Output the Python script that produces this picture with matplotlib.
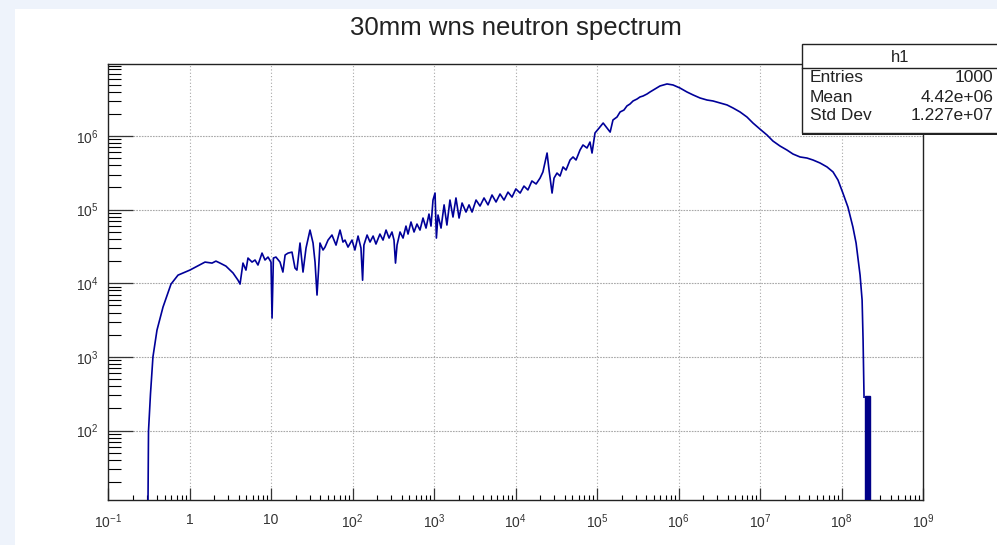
import matplotlib
matplotlib.use("Agg")
import matplotlib.pyplot as plt
from matplotlib.patches import Rectangle
from matplotlib.ticker import LogLocator, NullFormatter

plt.rcParams['font.family'] = ['Liberation Sans', 'DejaVu Sans']
plt.rcParams['mathtext.fontset'] = 'custom'
plt.rcParams['mathtext.rm'] = 'Liberation Sans'
plt.rcParams['mathtext.it'] = 'Liberation Sans'

# ---------------- data ----------------
title = "30mm wns neutron spectrum"

energy_eV = [0.305, 0.314, 0.332, 0.356, 0.399, 0.473, 0.593, 0.723, 1.01, 1.55,
             1.89, 2.11, 2.37, 2.80, 3.42, 3.94, 4.17, 4.53, 4.93, 5.22,
             5.85, 6.37, 6.92, 7.76, 8.44, 9.19, 10.0, 10.3, 10.7, 11.5,
             12.9, 14.0, 14.9, 16.2, 18.1, 19.7, 20.8, 22.7, 24.7, 26.9,
             30.1, 32.8, 34.7, 36.7, 38.3, 39.9, 43.5, 46.0, 50.1, 56.0,
             62.8, 70.3, 76.4, 80.9, 88.1, 98.6, 107, 117, 127, 133,
             138, 151, 164, 179, 194, 217, 237, 258, 281, 305,
             323, 337, 352, 383, 417, 453, 480, 522, 569, 618,
             673, 733, 798, 868, 919, 972, 1030, 1070, 1120, 1220,
             1330, 1440, 1570, 1710, 1860, 2030, 2210, 2470, 2690, 2930,
             3280, 3670, 4110, 4600, 5150, 5770, 6460, 7230, 8090, 9060,
             1.01e4, 1.14e4, 1.27e4, 1.42e4, 1.59e4, 1.79e4, 2.00e4, 2.17e4, 2.44e4, 2.58e4,
             2.81e4, 2.97e4, 3.23e4, 3.52e4, 3.83e4, 4.17e4, 4.67e4, 5.08e4, 5.53e4, 6.19e4,
             6.73e4, 7.54e4, 8.20e4, 8.69e4, 9.45e4, 1.06e5, 1.19e5, 1.33e5, 1.45e5, 1.57e5,
             1.76e5, 1.92e5, 2.14e5, 2.33e5, 2.54e5, 2.77e5, 3.10e5, 3.37e5, 3.67e5, 4.11e5,
             4.47e5, 5.15e5, 5.93e5, 7.23e5, 8.57e5, 1.04e6, 1.27e6, 1.51e6, 1.84e6, 2.24e6,
             2.65e6, 3.23e6, 3.94e6, 4.67e6, 5.69e6, 6.92e6, 8.20e6, 1.00e7, 1.22e7, 1.44e7,
             1.76e7, 2.14e7, 2.54e7, 3.10e7, 3.77e7, 4.47e7, 5.45e7, 6.64e7, 7.87e7, 9.06e7,
             1.04e8, 1.20e8, 1.38e8, 1.51e8, 1.59e8, 1.69e8, 1.79e8, 1.84e8, 1.89e8]

counts = [1, 98, 313, 1000, 2310, 4750, 9750, 12900, 15100, 19400,
          18800, 20000, 18800, 17100, 13800, 11000, 9750, 18800, 15100, 22000,
          19400, 20700, 17700, 25700, 20700, 22700, 19400, 3370, 22000, 22700,
          19400, 14200, 24200, 25700, 26500, 16100, 15100, 35200, 14200, 30100,
          52800, 35200, 19400, 6920, 15100, 35200, 28300, 31000, 38600, 45200,
          33000, 52800, 36300, 38600, 31000, 38600, 28300, 43800, 30100, 11000,
          33000, 45200, 36300, 43800, 34100, 46600, 38600, 52800, 41100, 49700,
          38600, 18800, 33000, 49700, 41100, 59800, 46600, 67900, 49700, 63700,
          52800, 76900, 56200, 87100, 59800, 135000, 168000, 41100, 84500, 56200,
          116000, 61800, 135000, 79400, 144000, 76900, 123000, 92700, 116000, 92700,
          135000, 112000, 144000, 116000, 158000, 127000, 163000, 135000, 173000, 148000,
          191000, 168000, 209000, 185000, 245000, 223000, 268000, 325000, 587000, 345000,
          168000, 268000, 314000, 286000, 380000, 345000, 472000, 519000, 472000, 645000,
          755000, 687000, 828000, 587000, 1.10e6, 1.28e6, 1.50e6, 1.28e6, 1.13e6, 1.65e6,
          1.81e6, 2.12e6, 2.25e6, 2.56e6, 2.72e6, 2.99e6, 3.18e6, 3.39e6, 3.49e6, 3.72e6,
          3.96e6, 4.35e6, 4.78e6, 5.09e6, 4.93e6, 4.49e6, 3.96e6, 3.61e6, 3.28e6, 3.08e6,
          2.99e6, 2.81e6, 2.64e6, 2.40e6, 2.12e6, 1.81e6, 1.50e6, 1.24e6, 1.03e6, 855000,
          731000, 645000, 569000, 519000, 502000, 472000, 430000, 380000, 325000, 252000,
          168000, 108000, 58100, 35200, 22000, 12900, 5910, 1690, 284]

# last (thick) bin near the end of the spectrum
last_bin_left = [1.94e8]
last_bin_right = [2.24e8]
last_bin_counts = [290]

x_tick_values = [1e-1, 1, 1e1, 1e2, 1e3, 1e4, 1e5, 1e6, 1e7, 1e8, 1e9]
x_tick_labels = [r'$10^{-1}$', '1', '10', r'$10^{2}$', r'$10^{3}$', r'$10^{4}$',
                 r'$10^{5}$', r'$10^{6}$', r'$10^{7}$', r'$10^{8}$', r'$10^{9}$']
y_tick_values = [1e2, 1e3, 1e4, 1e5, 1e6]
y_tick_labels = [r'$10^{2}$', r'$10^{3}$', r'$10^{4}$', r'$10^{5}$', r'$10^{6}$']

stats_name = "h1"
stats_rows = [("Entries", "1000"), ("Mean", "4.42e+06"), ("Std Dev", "1.227e+07")]

# ---------------- figure ----------------
W, H = 997, 545
fig = plt.figure(figsize=(W / 100, H / 100), dpi=100)
fig.patch.set_facecolor('#eef3fb')
fig.patches.append(Rectangle((15 / W, 0), 1 - 15 / W, (H - 9) / H,
                             transform=fig.transFigure, facecolor='white',
                             edgecolor='none', zorder=-5))

ax_l, ax_r, ax_t, ax_b = 108, 923, 64, 500
ax = fig.add_axes([ax_l / W, 1 - ax_b / H, (ax_r - ax_l) / W, (ax_b - ax_t) / H])
ax.set_zorder(1)
ax.set_facecolor('white')
ax.set_xscale('log')
ax.set_yscale('log')
ax.set_xlim(1e-1, 1e9)
ax.set_ylim(11.4, 9.5e6)

line_color = '#000099'
ax.plot(energy_eV, counts, color=line_color, lw=1.2, zorder=3)
for l, r, c in zip(last_bin_left, last_bin_right, last_bin_counts):
    ax.bar(l, c, width=r - l, align='edge', bottom=1, color='#000088',
           edgecolor='#000088', zorder=3)

# grid
for xv in x_tick_values[1:-1]:
    ax.axvline(xv, color='#a8a8a8', lw=0.8, ls=(0, (1, 2)), zorder=1)
for yv in y_tick_values:
    ax.axhline(yv, color='#a8a8a8', lw=0.8, ls=(0, (1.5, 1)), zorder=1)

ax.set_xticks(x_tick_values)
ax.set_xticklabels(x_tick_labels)
ax.set_yticks(y_tick_values)
ax.set_yticklabels(y_tick_labels)
ax.xaxis.set_minor_locator(LogLocator(base=10, subs=range(2, 10), numticks=30))
ax.yaxis.set_minor_locator(LogLocator(base=10, subs=range(2, 10), numticks=30))
ax.xaxis.set_minor_formatter(NullFormatter())
ax.yaxis.set_minor_formatter(NullFormatter())
ax.tick_params(axis='x', which='major', direction='in', length=8.5, width=0.9,
               pad=9, labelsize=10, colors='#333333', top=False)
ax.tick_params(axis='x', which='minor', direction='in', length=3.6, width=0.8, top=False)
ax.tick_params(axis='y', which='major', direction='in', length=18, width=0.9,
               pad=7, labelsize=10, colors='#333333', right=False)
ax.tick_params(axis='y', which='minor', direction='in', length=9, width=0.8, right=False)
for s in ax.spines.values():
    s.set_color('#222222')
    s.set_linewidth(1.0)

# title
fig.text((ax_l + ax_r) / 2 / W, 1 - 28.5 / H, title, ha='center', va='center',
         fontsize=18.5, color='#222222')

# stats box (with a small drop shadow like ROOT)
bx0, bx1, by0, by1, bh = 802, 1003, 44, 133, 68
fig.patches.append(Rectangle((bx0 / W, 1 - (by1 + 1.5) / H), (bx1 - bx0) / W, (by1 - by0) / H,
                             transform=fig.transFigure, facecolor='#222222',
                             edgecolor='none', zorder=4))
fig.patches.append(Rectangle((bx0 / W, 1 - by1 / H), (bx1 - bx0) / W, (by1 - by0) / H,
                             transform=fig.transFigure, facecolor='white',
                             edgecolor='#222222', lw=1.0, zorder=5))
fig.lines.append(plt.Line2D([bx0 / W, 1], [1 - bh / H, 1 - bh / H],
                            transform=fig.transFigure, color='#222222', lw=1.0, zorder=6))
fig.text(900 / W, 1 - 57 / H, stats_name, ha='center', va='center', fontsize=12,
         color='#222222', zorder=7)
row_y = [78, 97, 116]
for (lab, val), yy in zip(stats_rows, row_y):
    fig.text(810 / W, 1 - yy / H, lab, ha='left', va='center', fontsize=12.5,
             color='#222222', zorder=7)
    fig.text(993 / W, 1 - yy / H, val, ha='right', va='center', fontsize=12.5,
             color='#222222', zorder=7)

fig.savefig('out.png', dpi=100, facecolor=fig.get_facecolor())
